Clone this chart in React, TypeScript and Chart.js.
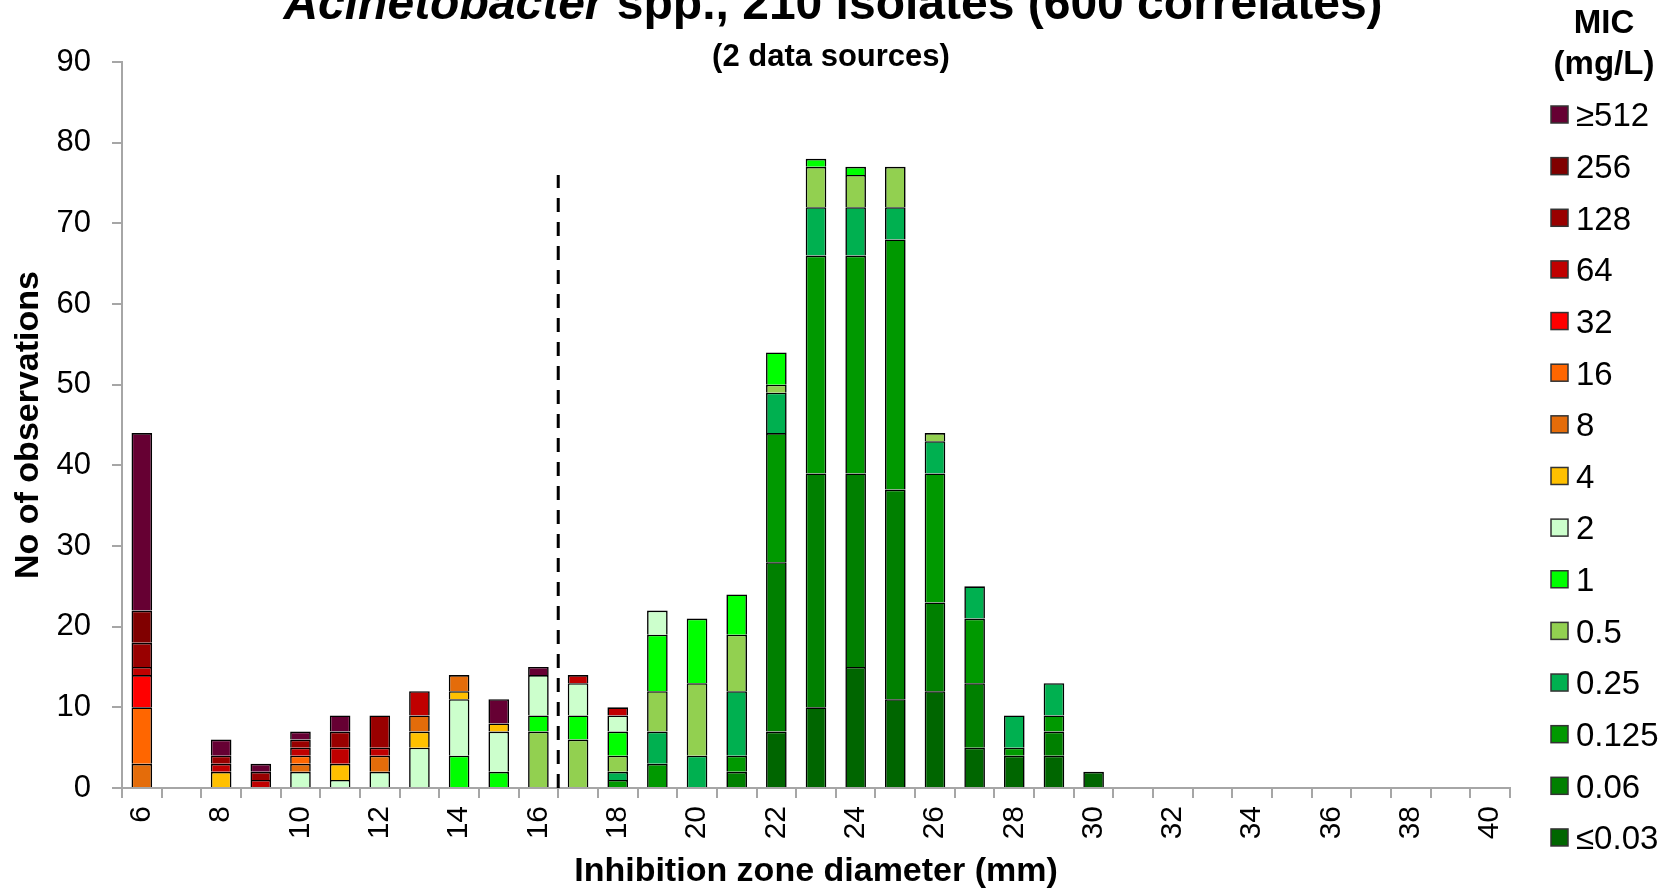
import React, { useEffect, useRef } from 'react';
import { Chart, registerables } from 'chart.js';

Chart.register(...registerables);

const FONT = '"Liberation Sans", Arial, Helvetica, sans-serif';

// Inhibition zone diameters (mm)
const categories = [6, 7, 8, 9, 10, 11, 12, 13, 14, 15, 16, 17, 18, 19, 20, 21, 22, 23, 24, 25, 26, 27, 28, 29, 30, 31, 32, 33, 34, 35, 36, 37, 38, 39, 40];

// MIC classes (bottom of stack to top)
const micLabels = ['≤0.03', '0.06', '0.125', '0.25', '0.5', '1', '2', '4', '8', '16', '32', '64', '128', '256', '≥512'];
const micColors = ['#006600', '#008000', '#009900', '#00B050', '#92D050', '#00FF00', '#CCFFCC', '#FFC000', '#E46C0A', '#FF6600', '#FF0000', '#C00000', '#990000', '#800000', '#660033'];

//                mm: 6  7  8  9 10 11 12 13 14 15 | 16 17 18 19 20 21 22 23 24 25 | 26 27 28 29 30 31 32 33 34 35 | 36 37 38 39 40
const micLe003 = [0, 0, 0, 0, 0, 0, 0, 0, 0, 0, 0, 0, 0, 0, 0, 0, 7, 10, 15, 11, 12, 5, 4, 4, 2, 0, 0, 0, 0, 0, 0, 0, 0, 0, 0];
const mic006 = [0, 0, 0, 0, 0, 0, 0, 0, 0, 0, 0, 0, 0, 0, 0, 2, 21, 29, 24, 26, 11, 8, 0, 3, 0, 0, 0, 0, 0, 0, 0, 0, 0, 0, 0];
const mic0125 = [0, 0, 0, 0, 0, 0, 0, 0, 0, 0, 0, 0, 1, 3, 0, 2, 16, 27, 27, 31, 16, 8, 1, 2, 0, 0, 0, 0, 0, 0, 0, 0, 0, 0, 0];
const mic025 = [0, 0, 0, 0, 0, 0, 0, 0, 0, 0, 0, 0, 1, 4, 4, 8, 5, 6, 6, 4, 4, 4, 4, 4, 0, 0, 0, 0, 0, 0, 0, 0, 0, 0, 0];
const mic05 = [0, 0, 0, 0, 0, 0, 0, 0, 0, 0, 7, 6, 2, 5, 9, 7, 1, 5, 4, 5, 1, 0, 0, 0, 0, 0, 0, 0, 0, 0, 0, 0, 0, 0, 0];
const mic1 = [0, 0, 0, 0, 0, 0, 0, 0, 4, 2, 2, 3, 3, 7, 8, 5, 4, 1, 1, 0, 0, 0, 0, 0, 0, 0, 0, 0, 0, 0, 0, 0, 0, 0, 0];
const mic2 = [0, 0, 0, 0, 2, 1, 2, 5, 7, 5, 5, 4, 2, 3, 0, 0, 0, 0, 0, 0, 0, 0, 0, 0, 0, 0, 0, 0, 0, 0, 0, 0, 0, 0, 0];
const mic4 = [0, 0, 2, 0, 0, 2, 0, 2, 1, 1, 0, 0, 0, 0, 0, 0, 0, 0, 0, 0, 0, 0, 0, 0, 0, 0, 0, 0, 0, 0, 0, 0, 0, 0, 0];
const mic8 = [3, 0, 0, 0, 1, 0, 2, 2, 2, 0, 0, 0, 0, 0, 0, 0, 0, 0, 0, 0, 0, 0, 0, 0, 0, 0, 0, 0, 0, 0, 0, 0, 0, 0, 0];
const mic16 = [7, 0, 0, 0, 1, 0, 0, 0, 0, 0, 0, 0, 0, 0, 0, 0, 0, 0, 0, 0, 0, 0, 0, 0, 0, 0, 0, 0, 0, 0, 0, 0, 0, 0, 0];
const mic32 = [4, 0, 0, 0, 0, 0, 0, 0, 0, 0, 0, 0, 0, 0, 0, 0, 0, 0, 0, 0, 0, 0, 0, 0, 0, 0, 0, 0, 0, 0, 0, 0, 0, 0, 0];
const mic64 = [1, 0, 1, 1, 1, 2, 1, 3, 0, 0, 0, 1, 1, 0, 0, 0, 0, 0, 0, 0, 0, 0, 0, 0, 0, 0, 0, 0, 0, 0, 0, 0, 0, 0, 0];
const mic128 = [3, 0, 1, 1, 1, 2, 4, 0, 0, 0, 0, 0, 0, 0, 0, 0, 0, 0, 0, 0, 0, 0, 0, 0, 0, 0, 0, 0, 0, 0, 0, 0, 0, 0, 0];
const mic256 = [4, 0, 0, 0, 0, 0, 0, 0, 0, 0, 0, 0, 0, 0, 0, 0, 0, 0, 0, 0, 0, 0, 0, 0, 0, 0, 0, 0, 0, 0, 0, 0, 0, 0, 0];
const micGe512 = [22, 0, 2, 1, 1, 2, 0, 0, 0, 3, 1, 0, 0, 0, 0, 0, 0, 0, 0, 0, 0, 0, 0, 0, 0, 0, 0, 0, 0, 0, 0, 0, 0, 0, 0];

const seriesValues = [micLe003, mic006, mic0125, mic025, mic05, mic1, mic2, mic4, mic8, mic16, mic32, mic64, mic128, mic256, micGe512];

const yTicks = [0, 10, 20, 30, 40, 50, 60, 70, 80, 90];

const titleItalic = 'Acinetobacter';
const titleRest = ' spp., 210 isolates (600 correlates)';
const subtitleText = '(2 data sources)';
const legendTitle = ['MIC', '(mg/L)'];
const xAxisTitle = 'Inhibition zone diameter (mm)';
const yAxisTitle = 'No of observations';

// breakpoint line between 16 and 17 mm, up to 76 observations
const breakpointLeft = 16;
const breakpointRight = 17;
const breakpointTop = 76;

const AXIS_GRAY = '#A6A6A6';

const decorPlugin = {
  id: 'decor',
  afterDatasetsDraw(chart: any) {
    const { ctx } = chart;
    const x = chart.scales.x;
    const y = chart.scales.y;
    const i0 = categories.indexOf(breakpointLeft);
    const i1 = categories.indexOf(breakpointRight);
    const px = (x.getPixelForValue(i0) + x.getPixelForValue(i1)) / 2;
    ctx.save();
    ctx.strokeStyle = '#000';
    ctx.lineWidth = 3;
    ctx.setLineDash([14, 10]);
    ctx.beginPath();
    ctx.moveTo(px, y.getPixelForValue(0));
    ctx.lineTo(px, y.getPixelForValue(breakpointTop));
    ctx.stroke();
    ctx.restore();
  },
  afterDraw(chart: any) {
    const { ctx } = chart;
    ctx.save();
    ctx.fillStyle = '#000';
    ctx.textBaseline = 'alphabetic';
    ctx.textAlign = 'left';
    // Main title (mixed italic / bold)
    const fItalic = `italic bold 48px ${FONT}`;
    const fBold = `bold 48px ${FONT}`;
    ctx.font = fItalic;
    const w1 = ctx.measureText(titleItalic).width;
    ctx.font = fBold;
    const w2 = ctx.measureText(titleRest).width;
    const cx = 833;
    const startX = cx - (w1 + w2) / 2;
    ctx.font = fItalic;
    ctx.fillText(titleItalic, startX, 19);
    ctx.font = fBold;
    ctx.fillText(titleRest, startX + w1, 19);
    // Subtitle
    ctx.textAlign = 'center';
    ctx.font = `bold 31px ${FONT}`;
    ctx.fillText(subtitleText, 831, 66);

    // Legend
    ctx.font = `bold 33px ${FONT}`;
    ctx.fillText(legendTitle[0], 1604, 33);
    ctx.fillText(legendTitle[1], 1604, 73.5);
    ctx.textAlign = 'left';
    ctx.font = `33px ${FONT}`;
    const ds = chart.data.datasets;
    const n = ds.length;
    for (let k = 0; k < n; k++) {
      const d = ds[n - 1 - k];
      const yc = 114.5 + k * 51.64;
      ctx.fillStyle = d.backgroundColor;
      ctx.fillRect(1551, yc - 8.5, 17, 17);
      ctx.strokeStyle = '#333';
      ctx.lineWidth = 1.5;
      ctx.strokeRect(1551, yc - 8.5, 17, 17);
      ctx.fillStyle = '#000';
      ctx.fillText(d.label, 1576, yc + 11.8);
    }
    ctx.restore();
  },
};

export default function App() {
  const canvasRef = useRef<HTMLCanvasElement | null>(null);

  useEffect(() => {
    const canvas = canvasRef.current;
    if (!canvas) return;
    const chart = new Chart(canvas, {
      type: 'bar',
      data: {
        labels: categories.map(String),
        datasets: micLabels.map((lab, i) => ({
          label: lab,
          data: seriesValues[i],
          backgroundColor: micColors[i],
          borderColor: '#000',
          borderWidth: 1.6,
          barPercentage: 0.52,
          categoryPercentage: 1,
        })),
      },
      options: {
        responsive: false,
        animation: false,
        devicePixelRatio: 1,
        layout: { padding: { left: 0, top: 62, right: 152, bottom: 0 } },
        plugins: {
          legend: { display: false },
          title: { display: false },
          tooltip: { enabled: false },
        },
        scales: {
          x: {
            stacked: true,
            offset: true,
            afterFit: (scale: any) => {
              scale.height = 105;
            },
            border: { display: true, color: AXIS_GRAY, width: 2 },
            grid: {
              display: true,
              offset: true,
              drawOnChartArea: false,
              drawTicks: true,
              tickLength: 10,
              color: AXIS_GRAY,
              lineWidth: 2,
            },
            ticks: {
              autoSkip: false,
              minRotation: 90,
              maxRotation: 90,
              padding: 8,
              color: '#000',
              font: { family: FONT, size: 30 },
              callback: (_v: any, idx: number) => (categories[idx] % 2 === 0 ? String(categories[idx]) : ''),
            },
            title: {
              display: true,
              text: xAxisTitle,
              color: '#000',
              font: { family: FONT, size: 34, weight: 'bold' },
              padding: { top: 0, bottom: 0.6 },
            },
          },
          y: {
            stacked: true,
            min: 0,
            max: 90,
            afterFit: (scale: any) => {
              scale.width = 122;
            },
            afterBuildTicks: (scale: any) => {
              scale.ticks = yTicks.map((v) => ({ value: v }));
            },
            border: { display: true, color: AXIS_GRAY, width: 2 },
            grid: {
              display: true,
              drawOnChartArea: false,
              drawTicks: true,
              tickLength: 10,
              color: AXIS_GRAY,
              lineWidth: 2,
            },
            ticks: {
              padding: 21,
              color: '#000',
              font: { family: FONT, size: 31 },
            },
            title: {
              display: true,
              text: yAxisTitle,
              color: '#000',
              font: { family: FONT, size: 34, weight: 'bold' },
              padding: { top: 8.6, bottom: 0 },
            },
          },
        },
      },
      plugins: [decorPlugin],
    });
    return () => chart.destroy();
  }, []);

  return (
    <div style={{ position: 'fixed', left: 0, top: 0, width: 1662, height: 893, background: '#fff' }}>
      <canvas ref={canvasRef} width={1662} height={893} style={{ display: 'block' }} />
    </div>
  );
}
